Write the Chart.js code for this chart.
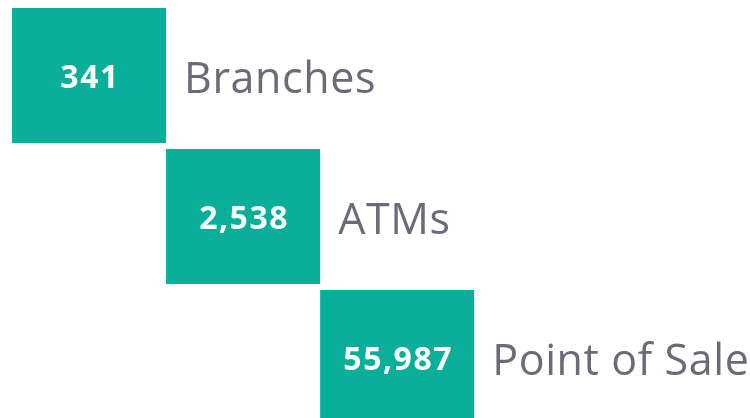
<!DOCTYPE html>
<html>
<head>
<meta charset="utf-8">
<script src="https://cdn.jsdelivr.net/npm/chart.js@4"></script>
<style>
  html, body { margin: 0; padding: 0; background: #fff; overflow: hidden; }
  #wrap { width: 750px; height: 418px; overflow: hidden; }
  #wrap div { width: 750px; height: 428px; }
</style>
</head>
<body>
<div id="wrap"><div><canvas id="myChart"></canvas></div></div>
<script>
var categories = ['Branches', 'ATMs', 'Point of Sale'];
var counts = [341, 2538, 55987];
// each box sits one step further right than the one before
var steps = [[0, 1], [1, 2], [2, 3]];

var teal = '#09AF98';
var grey = '#6B6A78';

// draws the count inside each box and the name to its right
var boxLabels = {
    id: 'boxLabels',
    afterDatasetsDraw: function (chart) {
        var ctx = chart.ctx;
        var bars = chart.getDatasetMeta(0).data;
        ctx.save();
        bars.forEach(function (bar, i) {
            var left = Math.min(bar.x, bar.base);
            var right = Math.max(bar.x, bar.base);
            var cx = (left + right) / 2;

            ctx.fillStyle = '#fff';
            ctx.font = 'bold 32px "Open Sans"';
            ctx.letterSpacing = '1.5px';
            ctx.textAlign = 'center';
            ctx.textBaseline = 'alphabetic';
            ctx.fillText(counts[i].toLocaleString('en-US'), cx + 1, bar.y + 12);

            ctx.fillStyle = grey;
            ctx.font = '43px "Open Sans"';
            ctx.letterSpacing = '0.6px';
            ctx.textAlign = 'left';
            ctx.fillText(categories[i], right + 18, bar.y + 17);
        });
        ctx.restore();
    }
};

var ctx = document.getElementById('myChart').getContext('2d');
var chart = new Chart(ctx, {
    type: 'bar',
    data: {
        labels: categories,
        datasets: [{
            data: steps,
            backgroundColor: teal,
            borderWidth: 0,
            categoryPercentage: 1,
            barPercentage: 0.957
        }]
    },
    options: {
        indexAxis: 'y',
        responsive: true,
        maintainAspectRatio: false,
        animation: false,
        layout: { padding: { left: 12, top: 5, right: 0, bottom: 0 } },
        plugins: {
            legend: { display: false },
            tooltip: { enabled: false }
        },
        scales: {
            x: { display: false, min: 0, max: 4.79 },
            y: { display: false }
        }
    },
    plugins: [boxLabels]
});
</script>
</body>
</html>
